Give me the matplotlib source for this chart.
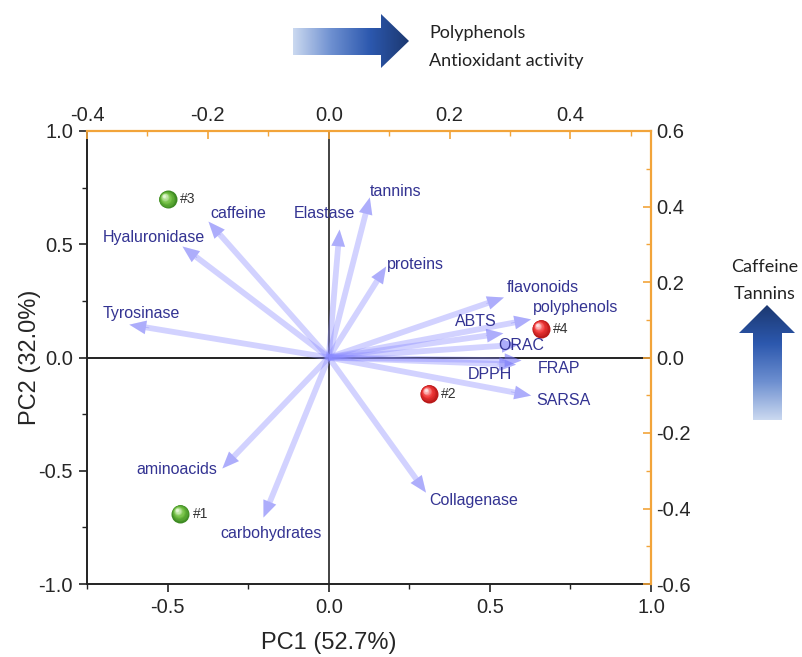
import numpy as np
import matplotlib
matplotlib.use("Agg")
import matplotlib.pyplot as plt
from matplotlib.patches import FancyArrowPatch, Polygon
from matplotlib.colors import LinearSegmentedColormap, to_rgb
import matplotlib.transforms as mtransforms

# ---- data -------------------------------------------------------------
# variable loadings (read on the top / right axes)
variables = ["caffeine", "Hyaluronidase", "Tyrosinase", "Elastase", "tannins",
             "proteins", "flavonoids", "polyphenols", "ABTS", "ORAC", "FRAP",
             "DPPH", "SARSA", "Collagenase", "aminoacids", "carbohydrates"]
load_pc1 = [-0.199, -0.242, -0.330, 0.018, 0.068, 0.095, 0.290, 0.335,
            0.289, 0.314, 0.319, 0.310, 0.335, 0.161, -0.176, -0.108]
load_pc2 = [0.360, 0.294, 0.087, 0.339, 0.424, 0.241, 0.159, 0.101,
            0.064, 0.034, -0.008, -0.019, -0.101, -0.358, -0.294, -0.424]

# sample scores (read on the bottom / left axes)
samples = ["#1", "#2", "#3", "#4"]
score_pc1 = [-0.46, 0.311, -0.50, 0.658]
score_pc2 = [-0.689, -0.159, 0.698, 0.128]
sample_group = ["green", "red", "green", "red"]

pc1_label = "PC1 (52.7%)"
pc2_label = "PC2 (32.0%)"
xticks = [-0.5, 0.0, 0.5, 1.0]
yticks = [-1.0, -0.5, 0.0, 0.5, 1.0]
top_ticks = [-0.4, -0.2, 0.0, 0.2, 0.4]
right_ticks = [-0.6, -0.4, -0.2, 0.0, 0.2, 0.4, 0.6]

# ---- label placement (pixels right / up from the arrow tip) -----------
label_offsets = {
    "caffeine": (2, 8, "left"), "Hyaluronidase": (23, 9, "right"),
    "Tyrosinase": (-27, 11, "left"), "Elastase": (16, 16, "right"),
    "tannins": (0, 6, "left"), "proteins": (1, 2, "left"),
    "flavonoids": (3, 10, "left"), "polyphenols": (2, 12, "left"),
    "ABTS": (-7, 12, "right"), "ORAC": (-20, -1, "left"),
    "FRAP": (16, -8, "left"), "DPPH": (-4, -10, "right"),
    "SARSA": (5, -5, "left"), "Collagenase": (3, -8, "left"),
    "aminoacids": (-5, -1, "right"), "carbohydrates": (-43, -16, "left"),
}

W, H = 802, 657
fig = plt.figure(figsize=(W / 100, H / 100), dpi=100)
fig.patch.set_facecolor("white")

tick_font = ["Liberation Sans Narrow", "Liberation Sans", "DejaVu Sans"]
lab_font = ["Liberation Sans", "DejaVu Sans"]
orange = "#f2a43a"
text_grey = "#262626"

rect = [87 / W, 1 - 584 / H, 564 / W, 453 / H]
ax = fig.add_axes(rect)
ax.set_xlim(-0.75, 1.0)
ax.set_ylim(-1.0, 1.0)
ax.set_xticks(xticks)
ax.set_yticks(yticks)
ax.set_xticks(np.arange(-0.75, 1.01, 0.25), minor=True)
ax.set_yticks(np.arange(-1.0, 1.01, 0.25), minor=True)
ax.set_xticklabels([f"{v:.1f}" for v in xticks])
ax.set_yticklabels([f"{v:.1f}" for v in yticks])
ax.tick_params(which="major", direction="out", length=6, width=1.2,
               color="#222222", labelsize=14.5, labelcolor=text_grey, pad=4)
ax.tick_params(which="minor", direction="out", length=3.5, width=1.0, color="#222222")
for lab in ax.get_xticklabels() + ax.get_yticklabels():
    lab.set_family(tick_font)
for s in ("top", "right"):
    ax.spines[s].set_visible(False)
for s in ("left", "bottom"):
    ax.spines[s].set_linewidth(1.4)
    ax.spines[s].set_color("#222222")
ax.set_xlabel(pc1_label, fontsize=17, family=tick_font, color=text_grey)
ax.set_ylabel(pc2_label, fontsize=17, family=tick_font, color=text_grey)
# axis titles sit centred on the zero lines
ax.xaxis.set_label_coords(0.75 / 1.75, -0.105)
ax.yaxis.set_label_coords(-0.082, 0.5)
ax.axhline(0, color="#222222", lw=1.4, zorder=1)
ax.axvline(0, color="#222222", lw=1.2, zorder=1)

# loading axes overlaid on the same area
ax2 = fig.add_axes(rect)
ax2.patch.set_visible(False)
ax2.set_xlim(-0.4, 0.5333)
ax2.set_ylim(-0.6, 0.6)
ax2.xaxis.tick_top()
ax2.yaxis.tick_right()
ax2.set_xticks(top_ticks)
ax2.set_yticks(right_ticks)
ax2.set_xticks(np.arange(-0.4, 0.54, 0.1), minor=True)
ax2.set_yticks(np.arange(-0.6, 0.61, 0.1), minor=True)
ax2.set_xticklabels([f"{v:.1f}" for v in top_ticks])
ax2.set_yticklabels([f"{v:.1f}" for v in right_ticks])
ax2.tick_params(which="major", direction="in", length=6, width=1.2,
                color=orange, labelsize=14.5, labelcolor=text_grey, pad=4)
ax2.tick_params(which="minor", direction="in", length=3.5, width=1.0, color=orange)
for lab in ax2.get_xticklabels() + ax2.get_yticklabels():
    lab.set_family(tick_font)
for s in ("left", "bottom"):
    ax2.spines[s].set_visible(False)
for s in ("top", "right"):
    ax2.spines[s].set_color(orange)
    ax2.spines[s].set_linewidth(1.6)

# loading arrows: translucent body plus a second, denser head
arrow_style = "simple,head_length=1.1,head_width=0.9,tail_width=0.38"
head_style = "simple,head_length=1.1,head_width=0.9,tail_width=0.05"
for name, lx, ly in zip(variables, load_pc1, load_pc2):
    body = FancyArrowPatch((0, 0), (lx, ly), transform=ax2.transData,
                           arrowstyle=arrow_style, mutation_scale=11,
                           color="#8a8aff", alpha=0.38, lw=0,
                           shrinkA=0, shrinkB=0, zorder=2)
    ax2.add_patch(body)
    head = FancyArrowPatch((0.9 * lx, 0.9 * ly), (lx, ly), transform=ax2.transData,
                           arrowstyle=head_style, mutation_scale=11,
                           color="#6a6af5", alpha=0.35, lw=0,
                           shrinkA=0, shrinkB=0, zorder=2)
    ax2.add_patch(head)
    dx, dy, ha = label_offsets[name]
    ax2.annotate(name, (lx, ly), xytext=(dx, dy), textcoords="offset pixels",
                 ha=ha, va="center", fontsize=11.5, color="#333392",
                 family=lab_font, zorder=4)


# shaded spheres for the samples
def draw_ball(axis, x, y, dark, mid, light, radius=9.0):
    n = 14
    c_dark, c_mid, c_light = (np.array(to_rgb(c)) for c in (dark, mid, light))
    for k in range(n):
        f = k / (n - 1)
        r = radius * (1 - 0.85 * f)
        shift = (radius - r) * 0.45
        if f < 0.5:
            col = c_dark + (c_mid - c_dark) * (f / 0.5)
        else:
            col = c_mid + (c_light - c_mid) * ((f - 0.5) / 0.5)
        tr = mtransforms.offset_copy(axis.transData, fig=fig, x=-shift * 0.72,
                                     y=shift * 0.72, units="points")
        axis.scatter([x], [y], s=(2 * r * 0.72) ** 2, color=col, lw=0,
                     transform=tr, zorder=5 + k * 0.01)


ball_colors = {"green": ("#3d8a22", "#72c043", "#e4f8d4"),
               "red": ("#b81818", "#f23a3a", "#ffe0e0")}
for name, sx, sy, grp in zip(samples, score_pc1, score_pc2, sample_group):
    draw_ball(ax, sx, sy, *ball_colors[grp])
    ax.annotate(name, (sx, sy), xytext=(12, 0), textcoords="offset pixels",
                ha="left", va="center", fontsize=10, color="#333333",
                family=lab_font, zorder=6)

# gradient block arrows outside the plot (pixel coordinates)
ov = fig.add_axes([0, 0, 1, 1])
ov.set_xlim(0, W)
ov.set_ylim(H, 0)
ov.axis("off")
ov.patch.set_visible(False)
grad = LinearSegmentedColormap.from_list("blk", ["#cbd9f0", "#6d8fd0", "#2c58ae", "#1c3870"])

top_arrow = [(293, 28), (381, 28), (381, 14), (409, 41), (381, 68), (381, 55), (293, 55)]
poly = Polygon(top_arrow, closed=True, transform=ov.transData, fc="none", ec="none")
ov.add_patch(poly)
im = ov.imshow(np.linspace(0, 1, 256)[None, :], cmap=grad, aspect="auto",
               extent=(293, 409, 68, 14), interpolation="bilinear")
im.set_clip_path(poly)

side_arrow = [(767, 305), (795, 333), (782, 333), (782, 420), (753, 420), (753, 333), (739, 333)]
poly2 = Polygon(side_arrow, closed=True, transform=ov.transData, fc="none", ec="none")
ov.add_patch(poly2)
im2 = ov.imshow(np.linspace(1, 0, 256)[:, None], cmap=grad, aspect="auto",
                extent=(739, 795, 420, 305), interpolation="bilinear")
im2.set_clip_path(poly2)

cal_font = ["Lato", "Open Sans", "DejaVu Sans"]
ov.text(429, 33, "Polyphenols", ha="left", va="center", fontsize=13,
        family=cal_font, color="#222222")
ov.text(429, 61, "Antioxidant activity", ha="left", va="center", fontsize=13,
        family=cal_font, color="#222222")
ov.text(765, 267, "Caffeine", ha="center", va="center", fontsize=13,
        family=cal_font, color="#222222")
ov.text(765, 294, "Tannins", ha="center", va="center", fontsize=13,
        family=cal_font, color="#222222")
ov.set_xlim(0, W)
ov.set_ylim(H, 0)

fig.savefig("out.png", dpi=100, facecolor="white")
